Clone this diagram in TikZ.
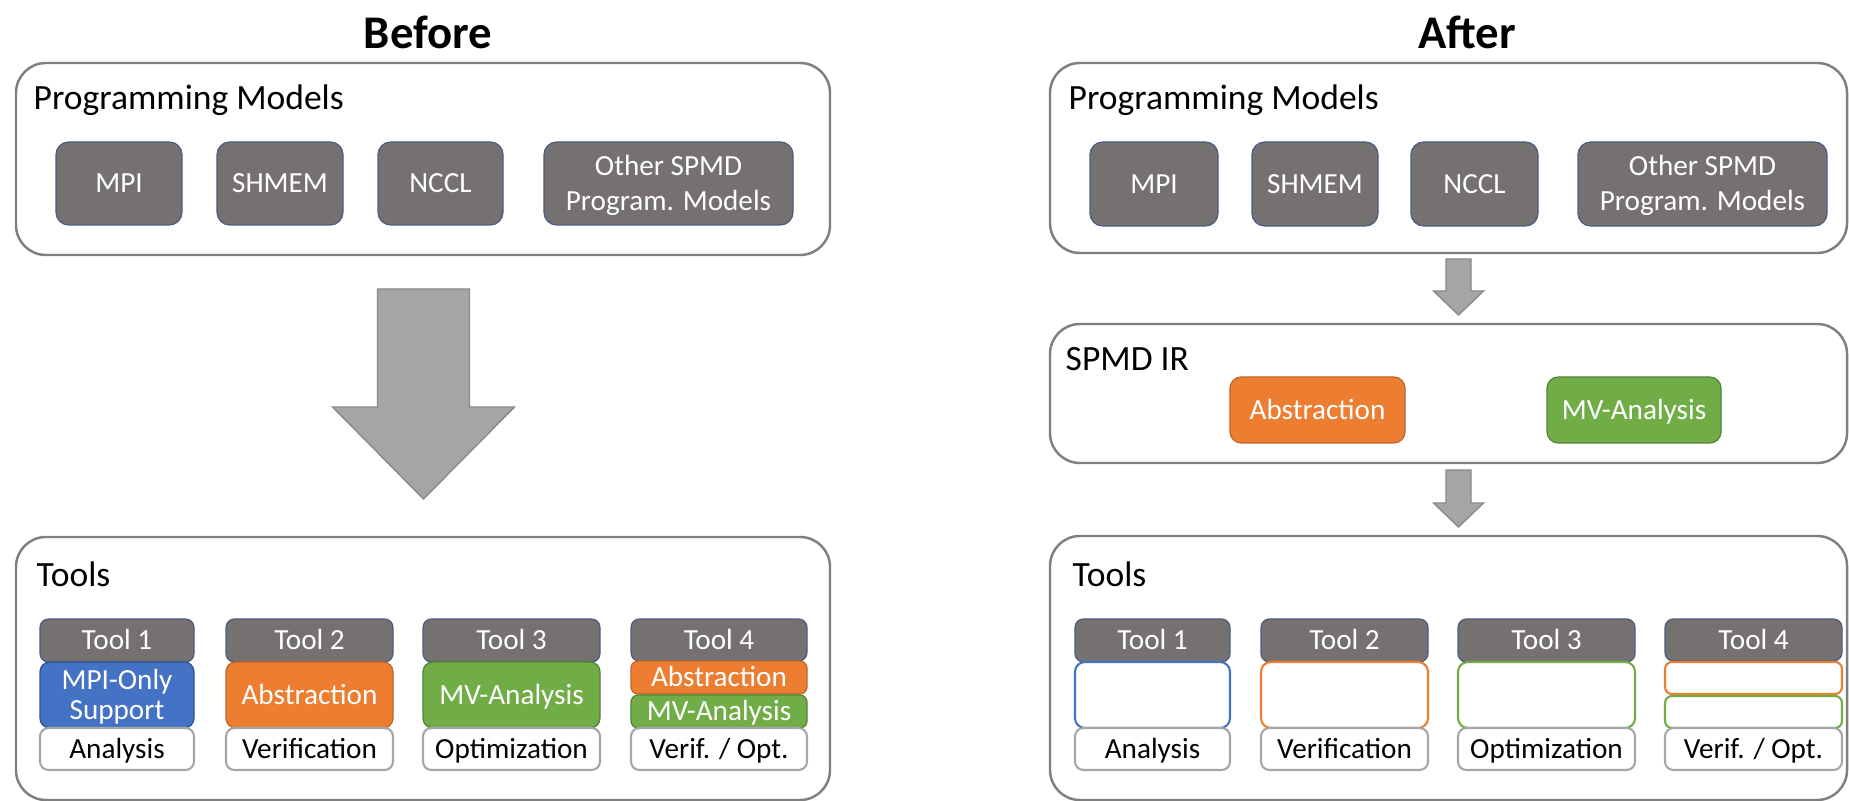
\documentclass[tikz,border=0pt]{standalone}
\usepackage{fontspec}
\setmainfont{Carlito}
\usetikzlibrary{calc}

\definecolor{boxgray}{HTML}{767171}
\definecolor{boxedge}{HTML}{4A5D80}
\definecolor{frame}{HTML}{7F7F7F}
\definecolor{lightframe}{HTML}{A6A6A6}
\definecolor{absorange}{HTML}{ED7D31}
\definecolor{absedge}{HTML}{C0652A}
\definecolor{mvgreen}{HTML}{70AD47}
\definecolor{mvedge}{HTML}{548235}
\definecolor{mpiblue}{HTML}{4472C4}
\definecolor{mpiedge}{HTML}{2F528F}
\definecolor{arrowgray}{HTML}{A5A5A5}
\definecolor{arrowedge}{HTML}{8A8A8A}

\tikzset{
  % a box given by its left, top, right and bottom edges (in 0.01cm units, y downwards)
  span/.style args={#1/#2/#3/#4}{
    at={({(#1+#3)/2},{(#2+#4)/2})}, anchor=center,
    minimum width={(#3-#1)*0.01cm}, minimum height={(#4-#2)*0.01cm}},
  region/.style={draw=frame, line width=0.7pt, fill=white, rounded corners=8.5pt,
                 inner sep=0pt, outer sep=0pt},
  heading/.style={font=\fontsize{10.1}{12}\selectfont, anchor=base west, inner sep=0pt},
  title/.style={font=\bfseries\fontsize{13.3}{16}\selectfont, anchor=base, inner sep=0pt},
  chip/.style={inner sep=0pt, outer sep=0pt, font=\fontsize{8.3}{10}\selectfont,
               text height=5.25pt, text depth=0pt},
  model/.style={chip, fill=boxgray, draw=boxedge, line width=0.35pt,
                rounded corners=3.6pt, text=white},
  toolhead/.style={chip, fill=boxgray, draw=boxedge, line width=0.35pt,
                   rounded corners=2.4pt, text=white},
  fillbox/.style={chip, text=white, line width=0.35pt, rounded corners=2.8pt},
  hollow/.style={chip, fill=white, line width=0.6pt, rounded corners=2.8pt},
  tag/.style={chip, fill=white, draw=lightframe, line width=0.6pt,
              rounded corners=2.4pt, text=black},
  % two centred lines: cap height plus one line of spacing
  twolines/.style={align=center, text height=#1, text depth=0pt},
  blockarrow/.style={fill=arrowgray, draw=arrowedge, line width=0.4pt},
}

\begin{document}
\begin{tikzpicture}[x=0.01cm, y=-0.01cm]
\useasboundingbox (0,0) rectangle (1849,801);
\clip (0,0) rectangle (1849,801);

% ---------------- Before ----------------
\node[title] (before) at (428,49) {Before};

\node[region, span=16/63/830/255] (pmL) {};
\node[heading] (pmLlabel) at (33,110) {Programming Models};
\node[model, span=56/142/182/225] (mpiL) {MPI};
\node[model, span=217/142/343/225] (shmemL) {SHMEM};
\node[model, span=378/142/503/225] (ncclL) {NCCL};
\node[model, twolines=15.25pt, span=544/142/793/225] (otherL) {Other SPMD\\Program. Models};

\node[region, span=16/537/830/800] (toolsL) {};
\node[heading] (toolsLlabel) at (36,587) {Tools};

% wide arrow from the models to the tools
\coordinate (bigtop) at ($(pmL.south)+(0.5,34)$);
\coordinate (bigtip) at ($(bigtop |- toolsL.north)+(0,-38)$);
\filldraw[blockarrow] ($(bigtop)+(-46,0)$) -- ++(92,0) -- ++(0,118) -- ++(45,0)
  -- (bigtip) -- ++(-91,-92) -- ++(45,0) -- cycle;

% tool columns
\node[toolhead, span=40/619/194/662] (t1L) {Tool 1};
\node[fillbox, fill=mpiblue, draw=mpiedge, font=\fontsize{8.3}{8.5}\selectfont,
      twolines=13.75pt, span=40/662/194/728] (mpionlyL) {MPI-Only\\Support};
\node[tag, span=40/728/194/770] (anaL) {Analysis};

\node[toolhead, span=226/619/393/662] (t2L) {Tool 2};
\node[fillbox, fill=absorange, draw=absedge, span=226/662/393/728] (absL) {Abstraction};
\node[tag, span=226/728/393/770] (verL) {Verification};

\node[toolhead, span=423/619/600/662] (t3L) {Tool 3};
\node[fillbox, fill=mvgreen, draw=mvedge, span=423/662/600/728] (mvL) {MV-Analysis};
\node[tag, span=423/728/600/770] (optL) {Optimization};

\node[toolhead, span=631/619/807/661] (t4L) {Tool 4};
\node[fillbox, fill=absorange, draw=absedge, rounded corners=2pt,
      span=631/661/807/694] (abs4L) {Abstraction};
\node[fillbox, fill=mvgreen, draw=mvedge, rounded corners=2pt,
      span=631/695/807/728] (mv4L) {MV-Analysis};
\node[tag, span=631/728/807/770] (voL) {Verif. / Opt.};

% ---------------- After ----------------
\node[title] (after) at (1467,49) {After};

\node[region, span=1050/63/1847/253] (pmR) {};
\node[heading] (pmRlabel) at (1068,110) {Programming Models};
\node[model, span=1090/142/1218/226] (mpiR) {MPI};
\node[model, span=1252/142/1378/226] (shmemR) {SHMEM};
\node[model, span=1411/142/1538/226] (ncclR) {NCCL};
\node[model, twolines=15.25pt, span=1578/142/1827/226] (otherR) {Other SPMD\\Program. Models};

\node[region, span=1050/324/1847/463] (irR) {};
\node[heading] (irRlabel) at (1065,371) {SPMD IR};
\node[fillbox, fill=absorange, draw=absedge, rounded corners=3.2pt,
      span=1230/377/1405/443] (absR) {Abstraction};
\node[fillbox, fill=mvgreen, draw=mvedge, rounded corners=3.2pt,
      span=1547/377/1721/443] (mvR) {MV-Analysis};

\node[region, span=1050/536/1847/800] (toolsR) {};
\node[heading] (toolsRlabel) at (1072,587) {Tools};

% small arrows: models -> IR -> tools
\coordinate (r1top) at ($(pmR.south)+(10,6)$);
\coordinate (r1tip) at ($(r1top |- irR.north)+(0,-9)$);
\filldraw[blockarrow] ($(r1top)+(-12.5,0)$) -- ++(25,0) -- ++(0,32) -- ++(12.5,0)
  -- (r1tip) -- ++(-25,-24) -- ++(12.5,0) -- cycle;

\coordinate (r2top) at ($(irR.south)+(10,7)$);
\coordinate (r2tip) at ($(r2top |- toolsR.north)+(0,-9)$);
\filldraw[blockarrow] ($(r2top)+(-12.5,0)$) -- ++(25,0) -- ++(0,33) -- ++(12.5,0)
  -- (r2tip) -- ++(-25,-24) -- ++(12.5,0) -- cycle;

% tool columns, now sharing the IR
\node[toolhead, span=1075/619/1230/662] (t1R) {Tool 1};
\node[hollow, draw=mpiblue, span=1075/662/1230/728] (slot1R) {};
\node[tag, span=1075/728/1230/770] (anaR) {Analysis};

\node[toolhead, span=1261/619/1428/662] (t2R) {Tool 2};
\node[hollow, draw=absorange, span=1261/662/1428/728] (slot2R) {};
\node[tag, span=1261/728/1428/770] (verR) {Verification};

\node[toolhead, span=1458/619/1635/662] (t3R) {Tool 3};
\node[hollow, draw=mvgreen, span=1458/662/1635/728] (slot3R) {};
\node[tag, span=1458/728/1635/770] (optR) {Optimization};

\node[toolhead, span=1665/619/1842/661] (t4R) {Tool 4};
\node[hollow, draw=absorange, rounded corners=2pt, span=1665/662/1842/694] (slot4aR) {};
\node[hollow, draw=mvgreen, rounded corners=2pt, span=1665/696/1842/728] (slot4bR) {};
\node[tag, span=1665/728/1842/770] (voR) {Verif. / Opt.};
\end{tikzpicture}
\end{document}
